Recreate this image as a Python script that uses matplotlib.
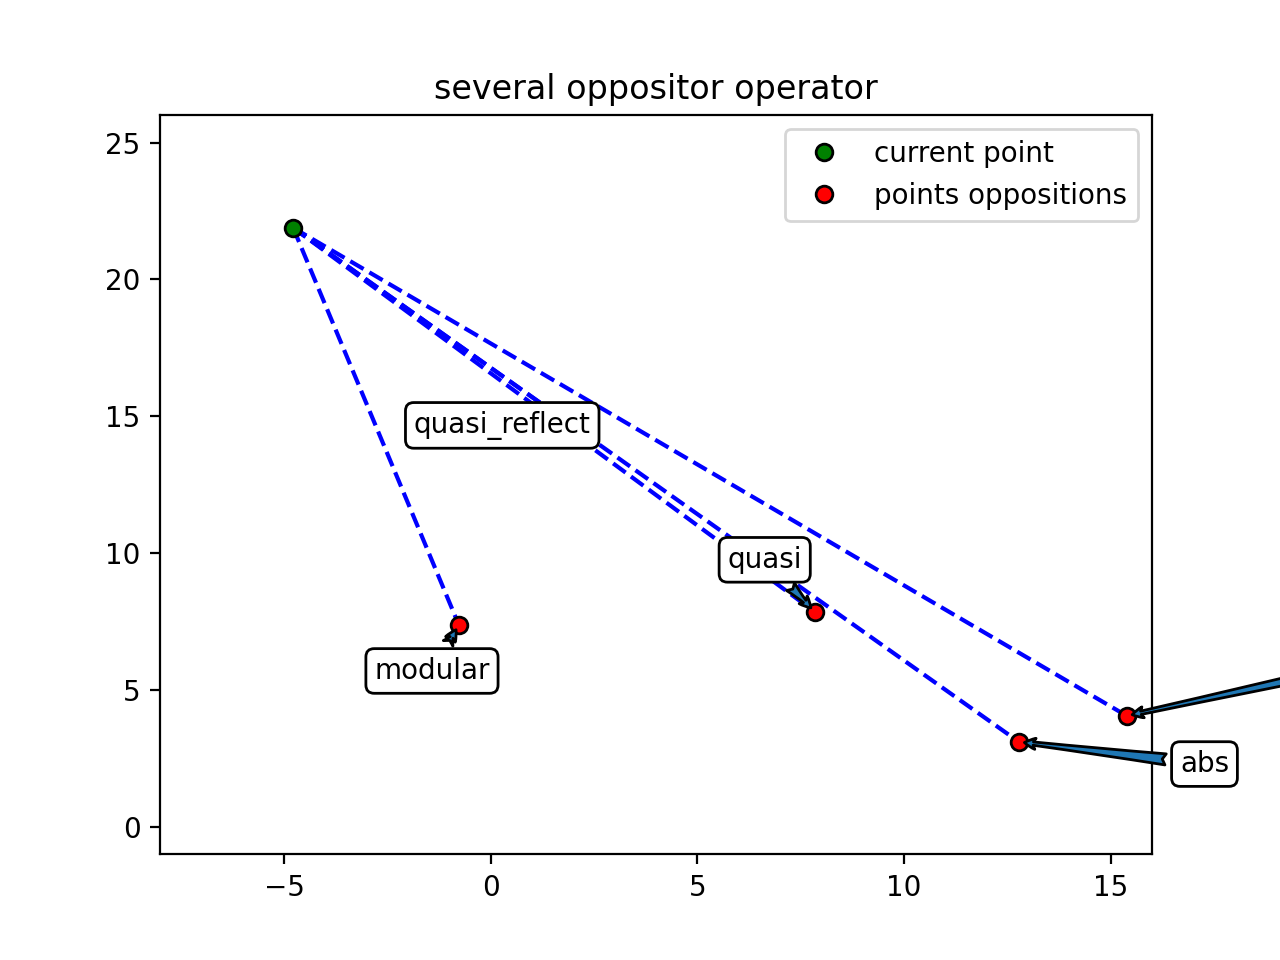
import numpy as np
import matplotlib
matplotlib.use("Agg")
import matplotlib.pyplot as plt


# bounds of the search area
min_bound = [-8, -1]
max_bound = [16, 26]

# current point
current_x = -4.78
current_y = 21.89

# opposition points (name, x, y)
opp_names = ["abs", "modular", "quasi", "quasi_reflect", "over"]
opp_x = [12.78, -0.77, 7.84, 1.90, 15.39]
opp_y = [3.11, 7.38, 7.86, 14.74, 4.06]

# where each label sits
label_x = [17.27, -1.42, 6.63, 0.28, 22.5]
label_y = [2.30, 5.70, 9.76, 14.67, 6.4]


fig = plt.figure(figsize=(6.4, 4.8), dpi=200)
ax = fig.add_subplot(111)

for x, y in zip(opp_x, opp_y):
    ax.plot([current_x, x], [current_y, y], 'b--')

ax.plot(current_x, current_y, 'o', color='green', markeredgecolor='black',
        label='current point')
ax.plot(opp_x, opp_y, 'o', color='red', markeredgecolor='black',
        label='points oppositions')

for name, x, y, tx, ty in zip(opp_names, opp_x, opp_y, label_x, label_y):
    ax.annotate(name, xy=(x, y), xytext=(tx, ty),
                ha='center', va='center',
                arrowprops=dict(arrowstyle='fancy'),
                bbox=dict(boxstyle='round', fc='white', ec='black'))

ax.set_xlim(min_bound[0], max_bound[0])
ax.set_ylim(min_bound[1], max_bound[1])
ax.set_title('several oppositor operator')
ax.legend(loc='upper right')

fig.savefig('out.png', dpi=200)
